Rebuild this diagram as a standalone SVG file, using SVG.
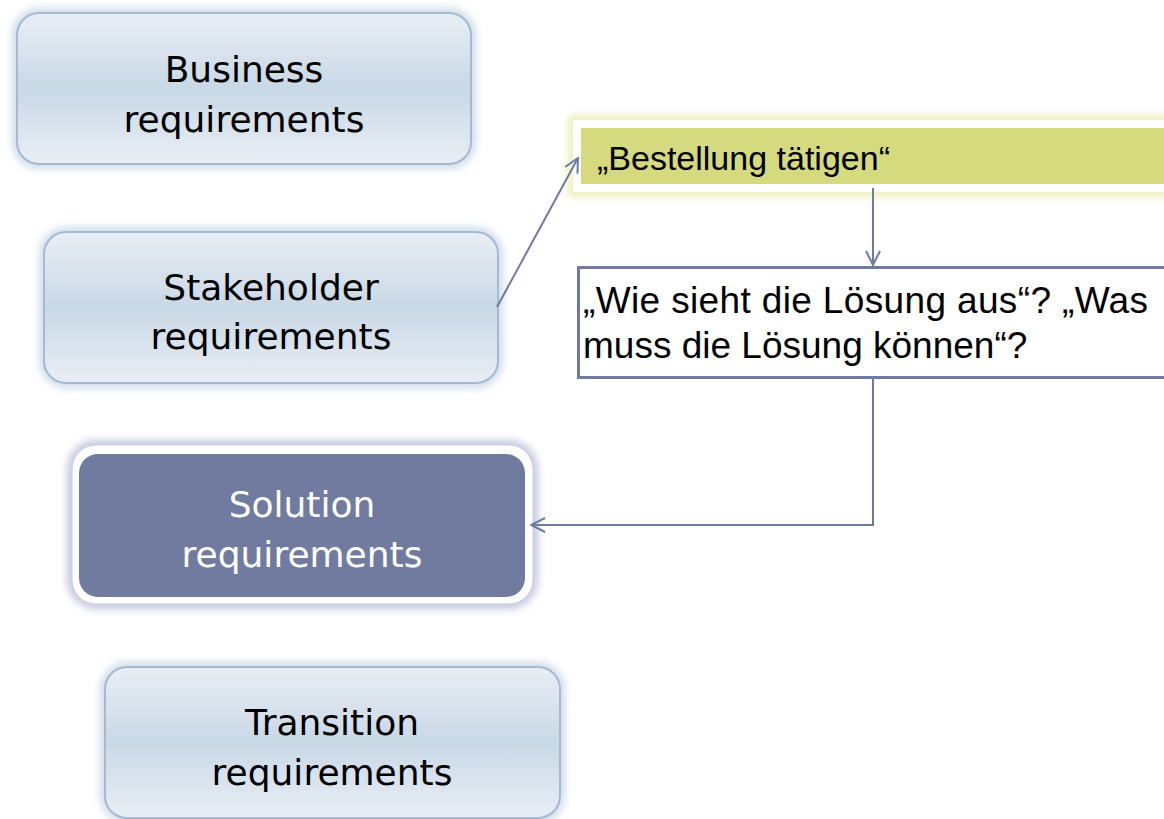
<svg xmlns="http://www.w3.org/2000/svg" width="1164" height="819" viewBox="0 0 1164 819">
<defs>
<linearGradient id="gBlue" x1="0" y1="0" x2="0" y2="1">
<stop offset="0" stop-color="#E9EEF5"/>
<stop offset="0.5" stop-color="#C9D8E6"/>
<stop offset="1" stop-color="#E9EEF5"/>
</linearGradient>
<filter id="glow" x="-10%" y="-20%" width="120%" height="140%">
<feGaussianBlur stdDeviation="4"/>
</filter>
<marker id="arr" viewBox="0 0 16 16" refX="15" refY="8" markerWidth="16" markerHeight="16" markerUnits="userSpaceOnUse" orient="auto">
<path d="M1,1 L15,8 L1,15" fill="none" stroke="#6F7AA0" stroke-width="2"/>
</marker>
<style>
.lbl{font-family:"DejaVu Sans","Liberation Sans",sans-serif;font-size:36px;text-anchor:middle;fill:#000}
.wlbl{fill:#fff}
.box{fill:url(#gBlue);stroke:#A3BAD2;stroke-width:2}
.halo{fill:none;stroke:#C3D3E4;stroke-width:8}
.txt{font-family:"Liberation Sans",Arial,sans-serif;font-size:34px;fill:#000}
.txt2{font-family:"Liberation Sans",Arial,sans-serif;font-size:37px;fill:#000}
.conn{fill:none;stroke:#6F7AA0;stroke-width:2}
</style>
</defs>
<rect width="1164" height="819" fill="#fff"/>

<g id="business">
<rect x="17" y="13" width="454" height="151" rx="22" class="halo" filter="url(#glow)"/>
<rect x="17" y="13" width="454" height="151" rx="22" class="box"/>
<text class="lbl" x="244" y="82">Business</text>
<text class="lbl" x="244" y="132">requirements</text>
</g>

<g id="stakeholder">
<rect x="44" y="232" width="454" height="151" rx="22" class="halo" filter="url(#glow)"/>
<rect x="44" y="232" width="454" height="151" rx="22" class="box"/>
<text class="lbl" x="271" y="300">Stakeholder</text>
<text class="lbl" x="271" y="349">requirements</text>
</g>

<g id="solution">
<rect x="72" y="445" width="461" height="159" rx="24" fill="none" stroke="#B4B9D4" stroke-width="8" filter="url(#glow)"/>
<rect x="72" y="445" width="461" height="159" rx="24" fill="#fff" stroke="#C9CCE0" stroke-width="1"/>
<rect x="79" y="454" width="446" height="143" rx="19" fill="#717BA0"/>
<text class="lbl wlbl" x="302" y="517" style="fill:#fff">Solution</text>
<text class="lbl wlbl" x="302" y="567" style="fill:#fff">requirements</text>
</g>

<g id="transition">
<rect x="105" y="667" width="455" height="151" rx="22" class="halo" filter="url(#glow)"/>
<rect x="105" y="667" width="455" height="151" rx="22" class="box"/>
<text class="lbl" x="332" y="735">Transition</text>
<text class="lbl" x="332" y="785">requirements</text>
</g>

<g id="bestellung">
<rect x="573" y="120" width="610" height="72" fill="none" stroke="#E6EBA8" stroke-width="8" filter="url(#glow)"/>
<rect x="573" y="120" width="610" height="72" fill="#fff"/>
<rect x="581" y="128" width="600" height="56" fill="#D5DA7E"/>
<text class="txt" x="597" y="170">„Bestellung tätigen“</text>
</g>

<g id="loesung">
<rect x="578.5" y="267.5" width="600" height="110" fill="#fff" stroke="#6F7AA0" stroke-width="3"/>
<text class="txt2" x="583" y="313" textLength="565" lengthAdjust="spacing">„Wie sieht die Lösung aus“? „Was</text>
<text class="txt2" x="583" y="358">muss die Lösung können“?</text>
</g>

<g id="connectors">
<line class="conn" x1="497" y1="307" x2="578" y2="158" marker-end="url(#arr)"/>
<line class="conn" x1="873" y1="188" x2="873" y2="265" marker-end="url(#arr)"/>
<polyline class="conn" points="873,378 873,525 531,525" marker-end="url(#arr)"/>
</g>
</svg>
